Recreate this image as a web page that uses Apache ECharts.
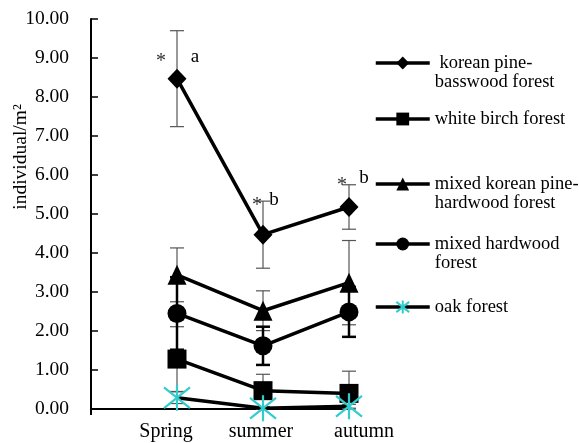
<!DOCTYPE html>
<html>
<head>
<meta charset="utf-8">
<script src="https://cdn.jsdelivr.net/npm/echarts@6/dist/echarts.min.js"></script>
<style>
html,body{margin:0;padding:0;background:#fff;}
#c{width:579px;height:443px;}
</style>
</head>
<body>
<div id="c"></div>
<script>
// ---- data ----
const categories = ['Spring', 'summer', 'autumn'];
const seriesNames = [' korean pine-\nbasswood forest', 'white birch forest', 'mixed korean pine-\nhardwood forest', 'mixed hardwood\nforest', 'oak forest'];
const koreanPine = [8.47, 4.47, 5.18];
const koreanPineErr = [1.23, 0.86, 0.57];
const whiteBirch = [1.28, 0.47, 0.40];
const whiteBirchErr = [0.83, 0.42, 0.57];
const mixedPine = [3.44, 2.52, 3.24];
const mixedPineErr = [0.69, 0.51, 1.08];
const mixedHard = [2.45, 1.62, 2.49];
const mixedHardErr = [0.93, 0.49, 0.64];
const oak = [0.29, 0.02, 0.07];
const oakErr = [0.15, 0.03, 0.05];
const sigMarks = ['*', '*', '*'];
const letters = ['a', 'b', 'b'];
const yMin = 0, yMax = 10, yStep = 1;

// ---- styling ----
const FONT = '"Liberation Serif", "DejaVu Serif", serif';
const FS = 18.5;
const starPath = 'path://M0,-10L0,10M-8,-8L8,8M-8,8L8,-8';
const seriesStyle = [
  { values: koreanPine, err: koreanPineErr, symbol: 'diamond', size: [19, 20], color: '#000', errColor: '#555', errWidth: 1.2, legendTop: 63 },
  { values: whiteBirch, err: whiteBirchErr, symbol: 'rect', size: 19, color: '#000', errColor: '#555', errWidth: 1.2, legendTop: 119 },
  { values: mixedPine, err: mixedPineErr, symbol: 'triangle', size: [19, 20], color: '#000', errColor: '#555', errWidth: 1.2, legendTop: 184 },
  { values: mixedHard, err: mixedHardErr, symbol: 'circle', size: 19, color: '#000', errColor: '#000', errWidth: 2.5, legendTop: 244 },
  { values: oak, err: oakErr, symbol: starPath, size: 26, color: '#33CCCC', errColor: '#555', errWidth: 1.2, legendTop: 307 }
];
// annotation offsets (px) relative to the top of the korean pine error bar
const sigOffsets = [[-16, 31], [-6, 5], [-7, 1]];
const letterOffsets = [[18, 26], [11, -1], [15, -7]];
// horizontal shift of each category label (px)
const labelShift = [-11, -2, 15];

const xData = (arr) => arr.map((v, i) => [i + 1, v]);

const series = [];
seriesStyle.forEach((s, k) => {
  series.push({
    type: 'custom',
    name: seriesNames[k] + '_err',
    z: 1,
    silent: true,
    data: s.values.map((v, i) => [i + 1, v, s.err[i]]),
    renderItem: (params, api) => {
      const x = api.value(0), v = api.value(1), e = api.value(2);
      const top = api.coord([x, v + e]);
      const bot = api.coord([x, Math.max(0, v - e)]);
      const st = { stroke: s.errColor, lineWidth: s.errWidth };
      const hw = 7;
      return {
        type: 'group',
        children: [
          { type: 'line', shape: { x1: top[0], y1: top[1], x2: bot[0], y2: bot[1] }, style: st },
          { type: 'line', shape: { x1: top[0] - hw, y1: top[1], x2: top[0] + hw, y2: top[1] }, style: st },
          { type: 'line', shape: { x1: bot[0] - hw, y1: bot[1], x2: bot[0] + hw, y2: bot[1] }, style: st }
        ]
      };
    }
  });
  const isStar = k === 4;
  series.push({
    type: 'line',
    name: seriesNames[k],
    z: 3,
    data: xData(s.values),
    symbol: s.symbol,
    symbolSize: s.size,
    showAllSymbol: true,
    lineStyle: { color: '#000', width: 3.5 },
    itemStyle: isStar
      ? { color: 'rgba(0,0,0,0)', borderColor: s.color, borderWidth: 2.2 }
      : { color: '#000', borderColor: '#000', borderWidth: 0 },
    emphasis: { disabled: true },
    animation: false
  });
});

series.push({
  type: 'custom',
  z: 5,
  silent: true,
  data: koreanPine.map((v, i) => [i + 1, v + koreanPineErr[i], i]),
  renderItem: (params, api) => {
    const p = api.coord([api.value(0), api.value(1)]);
    const i = api.value(2);
    return {
      type: 'group',
      children: [
        { type: 'text', x: p[0] + sigOffsets[i][0], y: p[1] + sigOffsets[i][1],
          style: { text: sigMarks[i], fill: '#333', font: '20px ' + FONT, align: 'center', verticalAlign: 'middle' } },
        { type: 'text', x: p[0] + letterOffsets[i][0], y: p[1] + letterOffsets[i][1],
          style: { text: letters[i], fill: '#000', font: '19px ' + FONT, align: 'center', verticalAlign: 'middle' } }
      ]
    };
  }
});

const LH = 19;
const legends = seriesStyle.map((s, k) => {
  const twoLine = seriesNames[k].indexOf('\n') >= 0;
  return {
    data: [seriesNames[k]],
    orient: 'vertical',
    left: 374,
    top: twoLine ? s.legendTop - 1.5 * LH : s.legendTop - LH / 2,
    itemWidth: 54,
    itemHeight: 16,
    itemGap: 0,
    padding: 0,
    selectedMode: false,
    lineStyle: { width: 3.5, color: '#000' },
    formatter: (name) => (name.indexOf('\n') >= 0 ? ' \n' + name : name),
    textStyle: { fontFamily: FONT, fontSize: FS, color: '#000', lineHeight: LH }
  };
});

const rich = {};
labelShift.forEach((sh, i) => {
  rich['c' + i] = {
    fontFamily: FONT, fontSize: 20, color: '#000',
    padding: sh < 0 ? [0, -2 * sh, 0, 0] : [0, 0, 0, 2 * sh]
  };
});

const chart = echarts.init(document.getElementById('c'), null, { renderer: 'canvas' });
chart.setOption({
  animation: false,
  backgroundColor: '#fff',
  grid: { left: 91, right: 230, top: 19, bottom: 34, containLabel: false },
  legend: legends,
  xAxis: {
    type: 'value',
    min: 0, max: categories.length, interval: 1,
    axisLine: { show: true, onZero: false, lineStyle: { color: '#000', width: 2 } },
    axisTick: { show: true, customValues: [0], length: 6, lineStyle: { color: '#000', width: 2 } },
    splitLine: { show: false },
    axisLabel: {
      margin: 13,
      color: '#000', fontFamily: FONT, fontSize: 20,
      rich: rich,
      formatter: (v) => (v >= 1 && v <= categories.length) ? '{c' + (v - 1) + '|' + categories[v - 1] + '}' : ''
    }
  },
  yAxis: {
    type: 'value',
    min: yMin, max: yMax, interval: yStep,
    axisLine: { show: true, lineStyle: { color: '#000', width: 2 } },
    axisTick: { show: true, inside: true, length: 7, lineStyle: { color: '#000', width: 1.5 } },
    splitLine: { show: false },
    axisLabel: {
      margin: 22,
      color: '#000', fontFamily: FONT, fontSize: 19.5,
      formatter: (v) => v.toFixed(2)
    }
  },
  graphic: [{
    type: 'text',
    x: 21, y: 157,
    rotation: Math.PI / 2,
    style: { text: 'individual/m²', font: '19.5px ' + FONT, fill: '#000', align: 'center', verticalAlign: 'middle' }
  }],
  series: series
});
</script>
</body>
</html>
